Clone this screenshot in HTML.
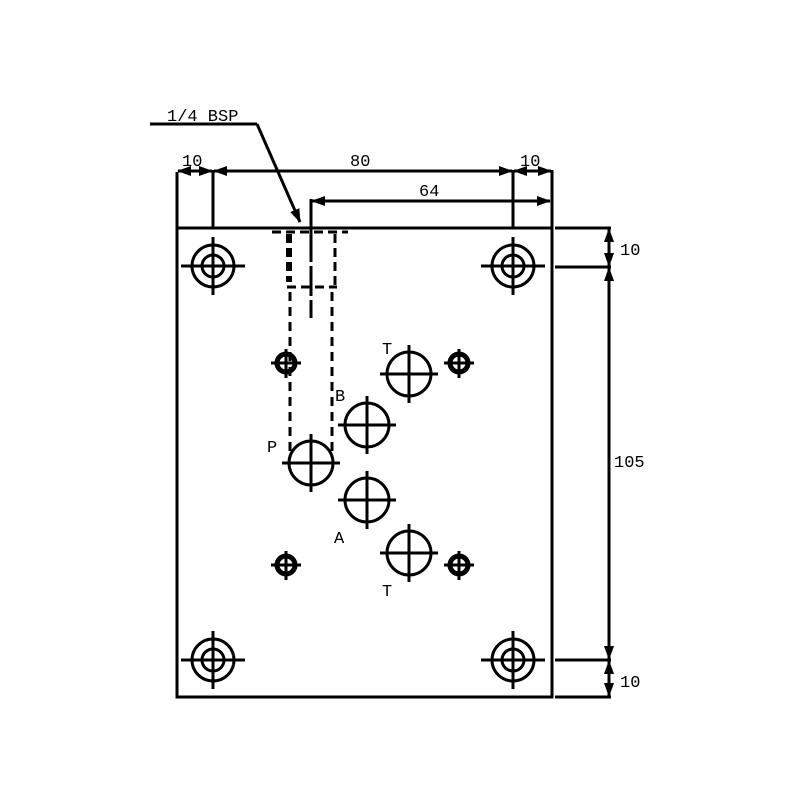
<!DOCTYPE html>
<html><head><style>body{margin:0;background:#fff}svg{display:block}</style></head><body>
<svg width="800" height="800" viewBox="0 0 800 800" xmlns="http://www.w3.org/2000/svg">
<defs>
<marker id="a" markerWidth="14" markerHeight="10" refX="13" refY="5" orient="auto-start-reverse" markerUnits="userSpaceOnUse"><path d="M0,0 L14,5 L0,10 Z" fill="#000"/></marker>
</defs>
<g stroke="#000" fill="none" stroke-width="3">
<rect x="177" y="228" width="375" height="469"/>
<!-- top dims -->
<line x1="177" y1="172" x2="177" y2="228"/>
<line x1="213" y1="170" x2="213" y2="228"/>
<line x1="513" y1="170" x2="513" y2="228"/>
<line x1="552" y1="170" x2="552" y2="228"/>
<line x1="178" y1="171" x2="212" y2="171" marker-start="url(#a)" marker-end="url(#a)"/>
<line x1="214" y1="171" x2="512" y2="171" marker-start="url(#a)" marker-end="url(#a)"/>
<line x1="514" y1="171" x2="551" y2="171" marker-start="url(#a)" marker-end="url(#a)"/>
<line x1="311" y1="199" x2="311" y2="232"/>
<line x1="312" y1="201" x2="550" y2="201" marker-start="url(#a)" marker-end="url(#a)"/>
<!-- leader -->
<polyline points="150,124 257,124"/>
<line x1="257" y1="124" x2="300" y2="222" marker-end="url(#a)"/>
<!-- right dims -->
<line x1="555" y1="228" x2="611" y2="228"/>
<line x1="555" y1="267" x2="611" y2="267"/>
<line x1="555" y1="660" x2="611" y2="660"/>
<line x1="555" y1="697" x2="611" y2="697"/>
<line x1="609" y1="229" x2="609" y2="266" marker-start="url(#a)" marker-end="url(#a)"/>
<line x1="609" y1="268" x2="609" y2="659" marker-start="url(#a)" marker-end="url(#a)"/>
<line x1="609" y1="661" x2="609" y2="696" marker-start="url(#a)" marker-end="url(#a)"/>
<!-- dashed hidden lines -->
<line x1="272" y1="232" x2="348" y2="232" stroke-dasharray="9,5"/>
<line x1="289" y1="234" x2="289" y2="282" stroke-width="6" stroke-dasharray="9,5"/>
<line x1="290" y1="292" x2="290" y2="456" stroke-dasharray="9,6"/>
<line x1="335" y1="234" x2="335" y2="286" stroke-dasharray="9,5"/>
<line x1="332" y1="292" x2="332" y2="452" stroke-dasharray="9,6"/>
<line x1="287" y1="287" x2="337" y2="287" stroke-dasharray="9,5"/>
<line x1="311" y1="232" x2="311" y2="318" stroke-dasharray="30,4"/>
<!-- mounting holes -->
<g id="m"><circle cx="213" cy="266" r="21"/><circle cx="213" cy="266" r="11"/><line x1="181" y1="266" x2="245" y2="266"/><line x1="213" y1="237" x2="213" y2="295"/></g>
<use href="#m" x="300"/><use href="#m" y="394"/><use href="#m" x="300" y="394"/>
<!-- small holes -->
<g id="s"><circle cx="286" cy="363" r="9" stroke-width="5"/><line x1="271" y1="363" x2="301" y2="363"/><line x1="286" y1="349" x2="286" y2="378"/></g>
<use href="#s" x="173"/><use href="#s" y="202"/><use href="#s" x="173" y="202"/>
<!-- ports -->
<g id="p"><circle cx="409" cy="374" r="22"/><line x1="380" y1="374" x2="438" y2="374"/><line x1="409" y1="345" x2="409" y2="403"/></g>
<use href="#p" x="-42" y="51"/><use href="#p" x="-98" y="89"/><use href="#p" x="-42" y="126"/><use href="#p" y="179"/>
</g>
<g font-family="Liberation Mono, monospace" font-size="17" fill="#000">
<text x="167" y="121">1/4 BSP</text>
<text x="182" y="166">10</text>
<text x="350" y="166">80</text>
<text x="520" y="166">10</text>
<text x="419" y="196">64</text>
<text x="620" y="255">10</text>
<text x="614" y="467">105</text>
<text x="620" y="687">10</text>
<text x="382" y="354">T</text>
<text x="335" y="401">B</text>
<text x="267" y="452">P</text>
<text x="334" y="543">A</text>
<text x="382" y="596">T</text>
</g>
</svg>
</body></html>
